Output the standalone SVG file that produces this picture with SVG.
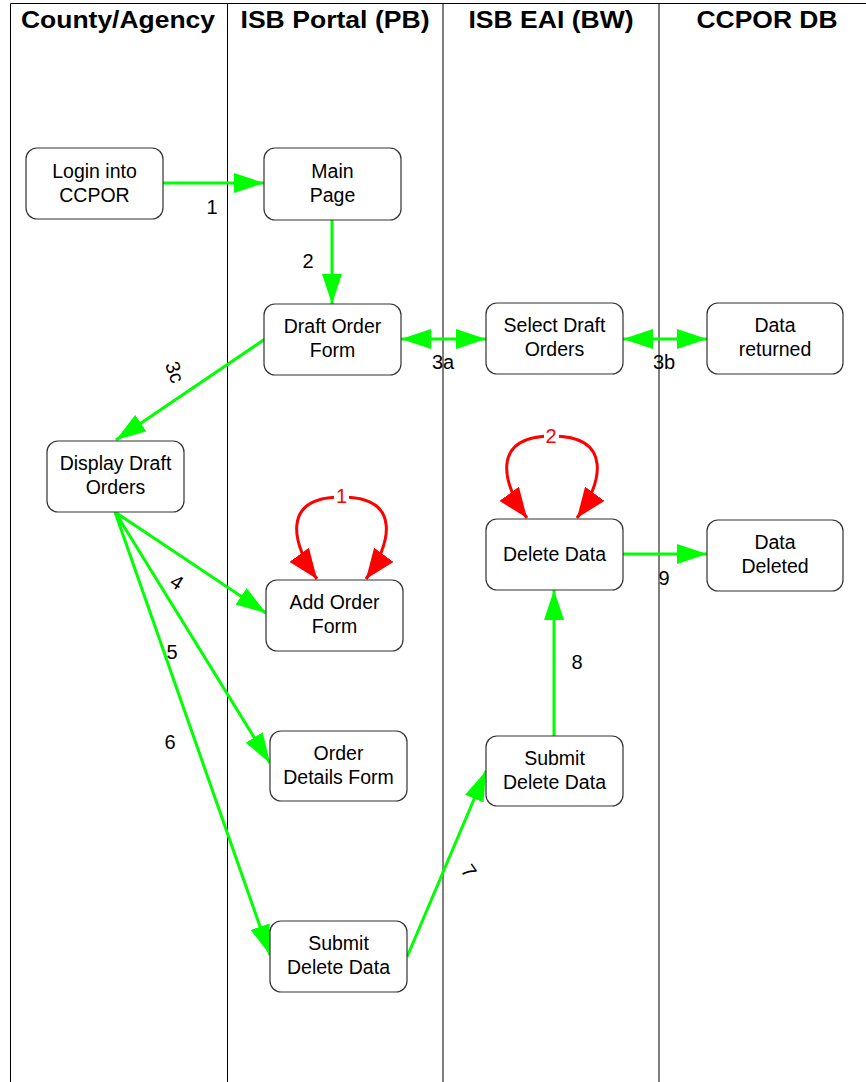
<svg xmlns="http://www.w3.org/2000/svg" width="866" height="1082" viewBox="0 0 866 1082">
  <style>
    .lane { stroke: #000; stroke-width: 1; fill: none; }
    .hdr { font-family: "Liberation Sans", Arial, sans-serif; font-weight: bold; font-size: 23px; fill: #000; text-anchor: middle; }
    .box { fill: #fff; stroke: #333; stroke-width: 1.2; }
    .txt { font-family: "Liberation Sans", Arial, sans-serif; font-size: 19.5px; fill: #000; text-anchor: middle; }
    .lbl { font-family: "Liberation Sans", Arial, sans-serif; font-size: 20px; fill: #000; text-anchor: middle; }
    .flow { stroke: #00ff00; stroke-width: 3; fill: none; }
    .loop { stroke: #ff0000; stroke-width: 3; fill: none; }
    .rlbl { font-family: "Liberation Sans", Arial, sans-serif; font-size: 20px; fill: #ff0000; text-anchor: middle; }
  </style>
  <defs>
    <marker id="gh" viewBox="0 0 30 20" refX="30" refY="10" markerWidth="30" markerHeight="20" markerUnits="userSpaceOnUse" orient="auto-start-reverse">
      <path d="M0,0 L30,10 L0,20 z" fill="#00ff00"/>
    </marker>
    <marker id="rh" viewBox="0 0 30 24" refX="30" refY="12" markerWidth="30" markerHeight="24" markerUnits="userSpaceOnUse" orient="auto-start-reverse">
      <path d="M0,0 L30,12 L0,24 z" fill="#ff0000"/>
    </marker>
  </defs>

  <rect x="0" y="0" width="866" height="1082" fill="#fff"/>

  <!-- swimlanes -->
  <g id="lanes">
    <path class="lane" d="M10.5,3.5 H866 M10.5,3.5 V1082 M227.5,3.5 V1082 M443,3.5 V1082 M659,3.5 V1082"/>
    <text class="hdr" x="118" y="28" textLength="194" lengthAdjust="spacingAndGlyphs">County/Agency</text>
    <text class="hdr" x="335" y="28" textLength="189" lengthAdjust="spacingAndGlyphs">ISB Portal (PB)</text>
    <text class="hdr" x="551" y="28" textLength="165" lengthAdjust="spacingAndGlyphs">ISB EAI (BW)</text>
    <text class="hdr" x="767" y="28" textLength="141" lengthAdjust="spacingAndGlyphs">CCPOR DB</text>
  </g>

  <!-- connectors -->
  <g id="connectors">
    <path class="flow" d="M163,183 L264,183" marker-end="url(#gh)"/>
    <path class="flow" d="M332,220 L332,304" marker-end="url(#gh)"/>
    <path class="flow" d="M401,339 L486,339" marker-start="url(#gh)" marker-end="url(#gh)"/>
    <path class="flow" d="M623,339 L707,339" marker-start="url(#gh)" marker-end="url(#gh)"/>
    <path class="flow" d="M265,339 L116,440" marker-end="url(#gh)"/>
    <path class="flow" d="M115,512 L266,613" marker-end="url(#gh)"/>
    <path class="flow" d="M115,512 L270,763" marker-end="url(#gh)"/>
    <path class="flow" d="M115,512 L270,955" marker-end="url(#gh)"/>
    <path class="flow" d="M407,957 L486,771" marker-end="url(#gh)"/>
    <path class="flow" d="M554,736 L554,590" marker-end="url(#gh)"/>
    <path class="flow" d="M623,554 L707,554" marker-end="url(#gh)"/>

    <!-- self loops -->
    <path class="loop" d="M317,579 C292,545 280,497 341.5,497 C403,497 391,545 366,579" marker-start="url(#rh)" marker-end="url(#rh)"/>
    <rect x="334" y="486" width="15" height="18" fill="#fff"/>
    <text class="rlbl" x="341.5" y="503">1</text>
    <path class="loop" d="M527,518 C502,484 490,436 552,436 C614,436 602,484 577,518" marker-start="url(#rh)" marker-end="url(#rh)"/>
    <rect x="544" y="426" width="15" height="18" fill="#fff"/>
    <text class="rlbl" x="551" y="443">2</text>

    <text class="lbl" x="212" y="214">1</text>
    <text class="lbl" x="308" y="268">2</text>
    <text class="lbl" x="443" y="369">3a</text>
    <text class="lbl" x="664" y="369">3b</text>
    <text class="lbl" transform="translate(175,372) rotate(70)" x="0" y="7">3c</text>
    <text class="lbl" transform="translate(177,582) rotate(32)" x="0" y="7">4</text>
    <text class="lbl" x="172" y="659">5</text>
    <text class="lbl" x="170" y="749">6</text>
    <text class="lbl" transform="translate(469,871) rotate(55)" x="0" y="7">7</text>
    <text class="lbl" x="577" y="669">8</text>
    <text class="lbl" x="664" y="585">9</text>
  </g>

  <!-- nodes -->
  <g id="login">
    <rect class="box" x="26" y="148" width="137" height="71" rx="11"/>
    <text class="txt" x="94.5" y="178">Login into</text>
    <text class="txt" x="94.5" y="202">CCPOR</text>
  </g>
  <g id="main-page">
    <rect class="box" x="264" y="148" width="137" height="72" rx="11"/>
    <text class="txt" x="332.5" y="178">Main</text>
    <text class="txt" x="332.5" y="202">Page</text>
  </g>
  <g id="draft-order-form">
    <rect class="box" x="264" y="304" width="137" height="71" rx="11"/>
    <text class="txt" x="332.5" y="333">Draft Order</text>
    <text class="txt" x="332.5" y="357">Form</text>
  </g>
  <g id="select-draft-orders">
    <rect class="box" x="486" y="303" width="137" height="71" rx="11"/>
    <text class="txt" x="554.5" y="332">Select Draft</text>
    <text class="txt" x="554.5" y="356">Orders</text>
  </g>
  <g id="data-returned">
    <rect class="box" x="707" y="303" width="136" height="71" rx="11"/>
    <text class="txt" x="775" y="332">Data</text>
    <text class="txt" x="775" y="356">returned</text>
  </g>
  <g id="display-draft-orders">
    <rect class="box" x="47" y="441" width="137" height="71" rx="11"/>
    <text class="txt" x="115.5" y="470">Display Draft</text>
    <text class="txt" x="115.5" y="494">Orders</text>
  </g>
  <g id="add-order-form">
    <rect class="box" x="266" y="580" width="137" height="71" rx="11"/>
    <text class="txt" x="334.5" y="609">Add Order</text>
    <text class="txt" x="334.5" y="633">Form</text>
  </g>
  <g id="delete-data">
    <rect class="box" x="486" y="519" width="137" height="71" rx="11"/>
    <text class="txt" x="554.5" y="561">Delete Data</text>
  </g>
  <g id="data-deleted">
    <rect class="box" x="707" y="520" width="136" height="71" rx="11"/>
    <text class="txt" x="775" y="549">Data</text>
    <text class="txt" x="775" y="573">Deleted</text>
  </g>
  <g id="order-details-form">
    <rect class="box" x="270" y="731" width="137" height="70" rx="11"/>
    <text class="txt" x="338.5" y="760">Order</text>
    <text class="txt" x="338.5" y="784">Details Form</text>
  </g>
  <g id="submit-delete-eai">
    <rect class="box" x="486" y="736" width="137" height="70" rx="11"/>
    <text class="txt" x="554.5" y="765">Submit</text>
    <text class="txt" x="554.5" y="789">Delete Data</text>
  </g>
  <g id="submit-delete-portal">
    <rect class="box" x="270" y="921" width="137" height="71" rx="11"/>
    <text class="txt" x="338.5" y="950">Submit</text>
    <text class="txt" x="338.5" y="974">Delete Data</text>
  </g>
</svg>
